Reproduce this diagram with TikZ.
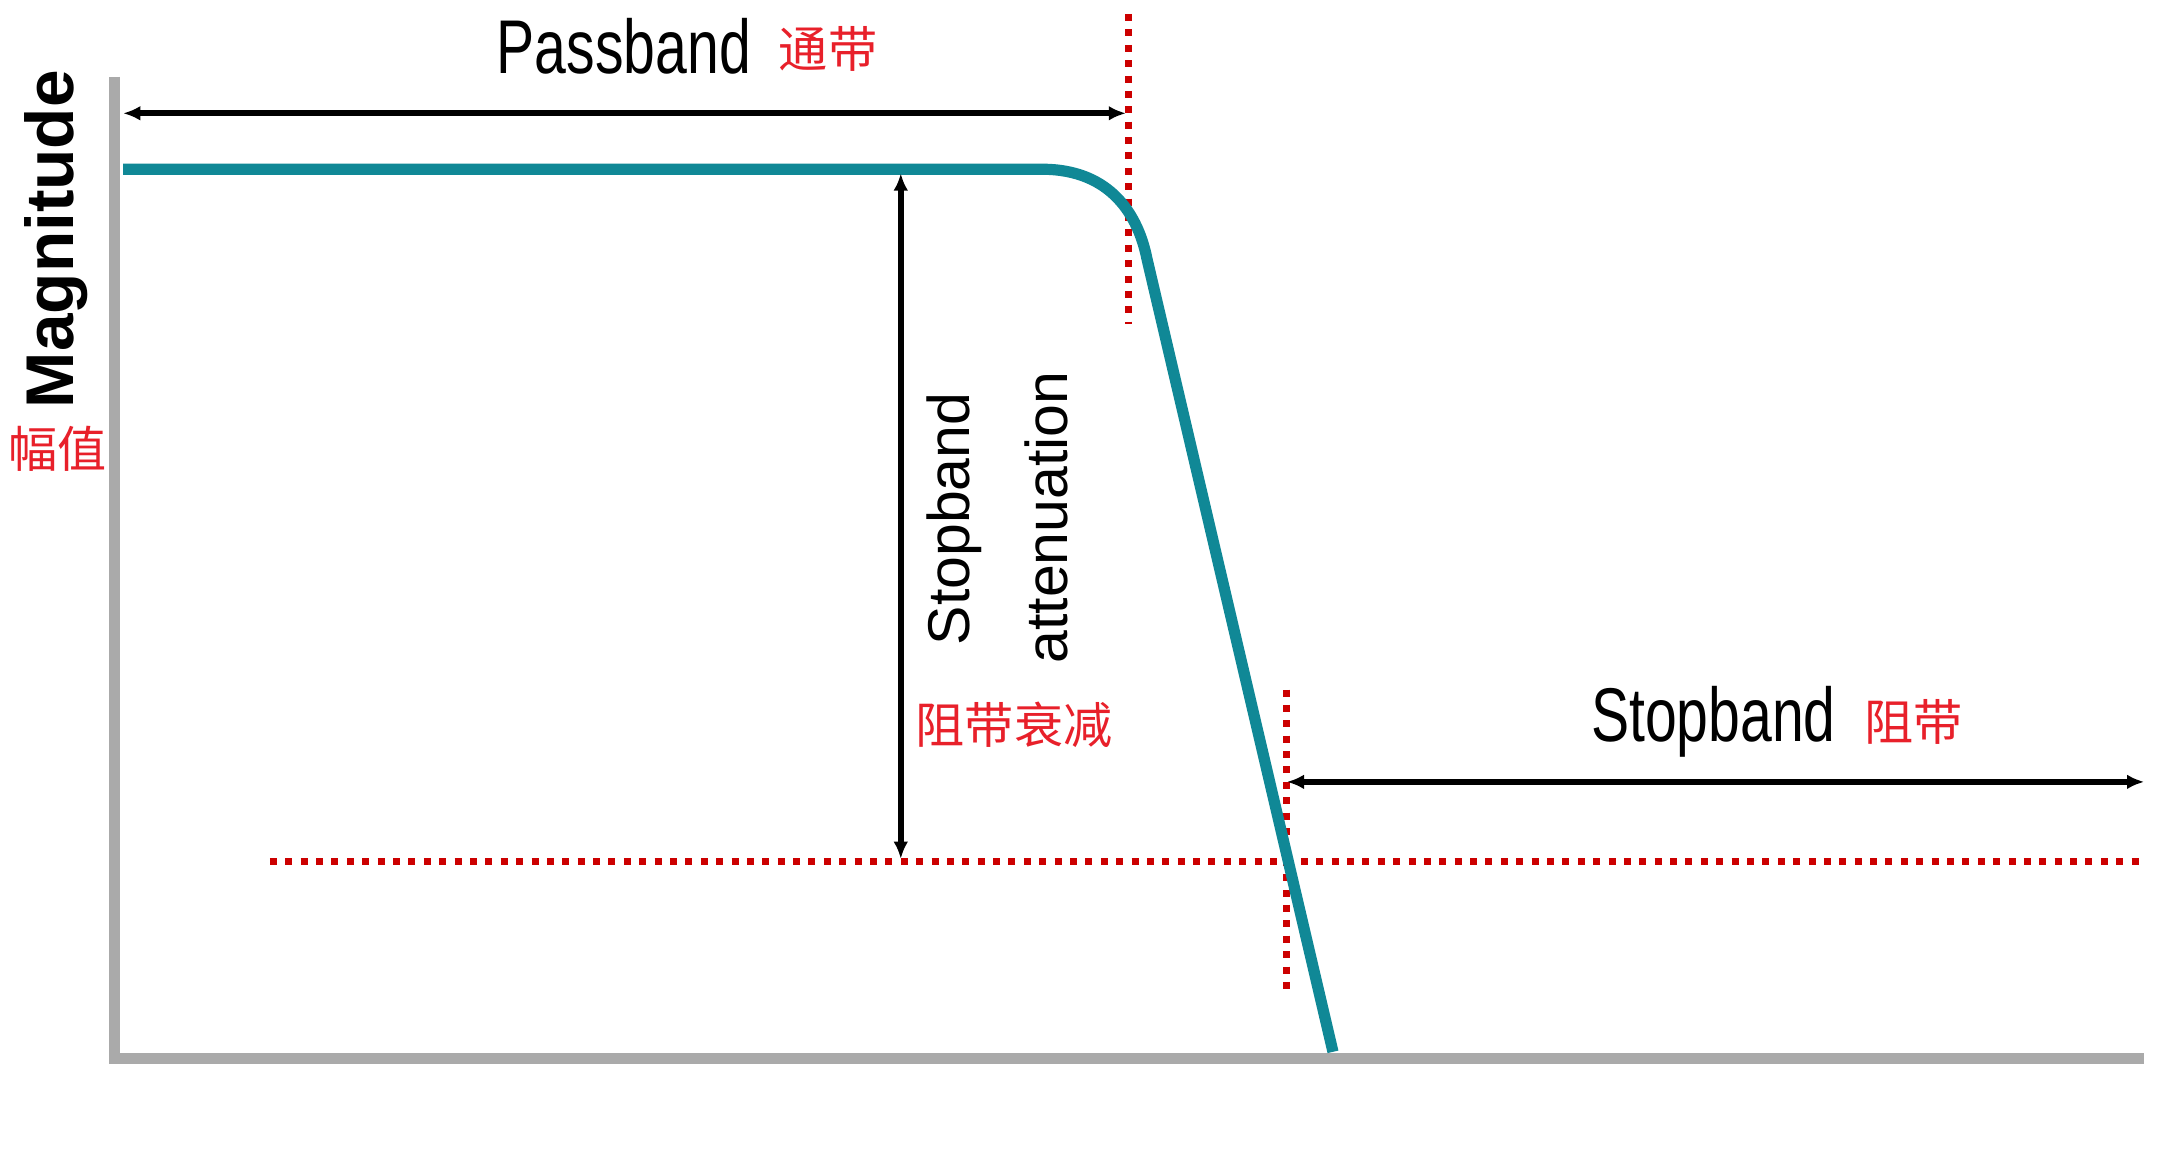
\documentclass[tikz,border=0pt]{standalone}
\usepackage{fontspec}
\setmainfont{Liberation Sans}
\newfontfamily\cjk{Noto Sans CJK SC}
\usetikzlibrary{arrows.meta}
\definecolor{axisgray}{HTML}{AAAAAA}
\definecolor{teal}{HTML}{108896}
\definecolor{dred}{HTML}{CC0000}
\definecolor{cred}{HTML}{E8202A}
\begin{document}
\begin{tikzpicture}[x=0.02cm,y=-0.02cm,
  axis/.style={axisgray,line width=8*0.02cm},
  curve/.style={teal,line width=8*0.02cm},
  dimarrow/.style={black,line width=4*0.02cm,{Latex[length=7pt,width=6pt]}-{Latex[length=7pt,width=6pt]}},
  reddot/.style={dred,line width=5*0.02cm,dash pattern=on 5*0.02cm off 6*0.02cm},
  cn/.style={text=cred,font=\cjk\fontsize{20}{22}\selectfont,inner sep=0},
  cond/.style={inner sep=0,font=\fontsize{31}{33}\selectfont,xscale=0.75}]
\useasboundingbox (0,0) rectangle (1560,834);
\fill[white] (0,0) rectangle (1560,834);
% axes
\coordinate (ytop) at (82,55);
\coordinate (xend) at (1533,757);
\draw[axis] (ytop) -- (82,761);
\draw[axis] (78,757) -- (xend);
% red dotted guides
\coordinate (v1a) at (807,10); \coordinate (v1b) at (807,232);
\coordinate (v2a) at (920,493); \coordinate (v2b) at (920,708);
\coordinate (h1a) at (193,616); \coordinate (h1b) at (1533,616);
\draw[reddot] (v1a) -- (v1b);
\draw[reddot] (v2a) -- (v2b);
\draw[reddot] (h1a) -- (h1b);
% response curve
\coordinate (c0) at (88,121);
\coordinate (c1) at (745,121);
\coordinate (c2) at (820,185);
\coordinate (c3) at (953,752);
\draw[curve] (c0) -- (c1) .. controls (795,121) and (814,155) .. (c2) -- (c3);
% arrows
\coordinate (pa) at (88,81); \coordinate (pb) at (805,81);
\draw[dimarrow] (pa) -- (pb);
\coordinate (sa) at (644,124); \coordinate (sb) at (644,614);
\draw[dimarrow] (sa) -- (sb);
\coordinate (ba) at (920,559); \coordinate (bb) at (1533,559);
\draw[dimarrow] (ba) -- (bb);
% labels
\node[rotate=90,font=\bfseries\fontsize{27.5}{30}\selectfont,inner sep=0] (mag) at (40,171) {Magnitude};
\node[cn] (fz) at (41,321) {幅值};
\node[cond] (pass) at (446,33) {Passband};
\node[cn] (td) at (592,35) {通带};
\node[rotate=90,font=\fontsize{24}{26}\selectfont,inner sep=0] (sa1) at (682,371) {Stopband};
\node[rotate=90,font=\fontsize{24}{26}\selectfont,inner sep=0] (sa2) at (748,370) {attenuation};
\node[cn] (zdsj) at (725,518) {阻带衰减};
\node[cond] (stop) at (1225,516) {Stopband};
\node[cn] (zd) at (1368,516) {阻带};
\end{tikzpicture}
\end{document}
